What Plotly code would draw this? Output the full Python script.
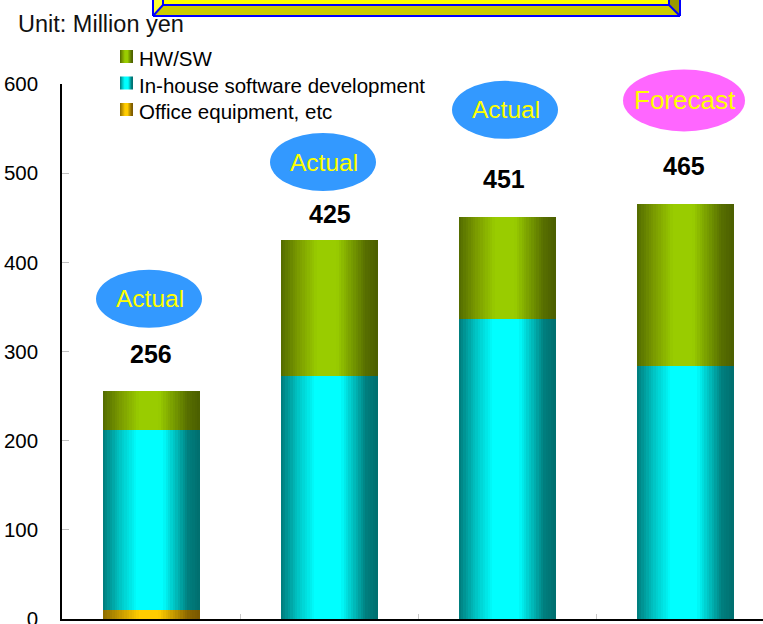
import plotly.graph_objects as go

# ---- data (million yen) ----
status = ["Actual", "Actual", "Actual", "Forecast"]
office_equipment = [10, 0, 0, 0]
inhouse_software = [202, 273, 336, 284]
hw_sw = [44, 152, 115, 181]
series_names = ["Office equipment, etc", "In-house software development", "HW/SW"]
y_ticks = [0, 100, 200, 300, 400, 500, 600]

totals = [a + b + c for a, b, c in zip(office_equipment, inhouse_software, hw_sw)]
x_pos = list(range(len(totals)))

# ---- page geometry ----
W, H = 763, 624
L, R, T, B = 62, 763, 84, 619          # plot area in page pixels
X_RANGE = [-0.5, -0.5 + (R - L) / 178.0]
Y_RANGE = [0, 600]


def px(xp):
    return (xp - L) / (R - L)


def py(yp):
    return (B - yp) / (B - T)


def paper_x(v):
    return (v - X_RANGE[0]) / (X_RANGE[1] - X_RANGE[0])


def paper_y(v):
    return (v - Y_RANGE[0]) / (Y_RANGE[1] - Y_RANGE[0])


def hex2rgb(h):
    h = h.lstrip("#")
    return tuple(int(h[i:i + 2], 16) for i in (0, 2, 4))


def shade(stops, t):
    for (t0, c0), (t1, c1) in zip(stops, stops[1:]):
        if t0 <= t <= t1:
            f = 0 if t1 == t0 else (t - t0) / (t1 - t0)
            a, b = hex2rgb(c0), hex2rgb(c1)
            return "rgb(%d,%d,%d)" % tuple(round(a[i] + (b[i] - a[i]) * f) for i in range(3))
    return stops[-1][1]


# cylinder-like horizontal shading for each series
gold = [(0, "#8c6c00"), (0.18, "#c49800"), (0.38, "#ffcc00"), (0.58, "#ffcc00"),
        (0.88, "#8a6600"), (1, "#7a5800")]
cyan = [(0, "#007a7a"), (0.18, "#00c4c4"), (0.36, "#00ffff"), (0.62, "#00ffff"),
        (0.88, "#007f7f"), (1, "#006e6e")]
green = [(0, "#526a00"), (0.18, "#7a9a00"), (0.38, "#99cc00"), (0.58, "#99cc00"),
         (0.88, "#576e00"), (1, "#4b5e00")]

segments = [
    (series_names[0], office_equipment, gold),
    (series_names[1], inhouse_software, cyan),
    (series_names[2], hw_sw, green),
]

BAR_W = 97 / 178.0
N = 40

fig = go.Figure()
base = [0] * len(totals)
for name, vals, stops in segments:
    for k in range(N):
        t = (k + 0.5) / N
        start = -BAR_W / 2 + k * BAR_W / N
        fig.add_trace(go.Bar(
            x=x_pos, y=vals, base=list(base),
            offset=start, width=BAR_W - k * BAR_W / N,
            marker=dict(color=shade(stops, t), line=dict(width=0)),
            name=name, showlegend=False, hoverinfo="skip",
        ))
    base = [b + v for b, v in zip(base, vals)]

shapes = []
annotations = []

# ---- value labels above bars ----
label_lift = [37, 26, 38, 38]
label_dx = [0, 1, -3, -1]
for i, tot in enumerate(totals):
    annotations.append(dict(
        x=x_pos[i], y=tot, xref="x", yref="y", text="<b>%d</b>" % tot,
        showarrow=False, yshift=label_lift[i], xshift=label_dx[i],
        font=dict(family="Liberation Sans, Arial", size=25, color="black"),
    ))

# ---- status ellipses ----
ell_lift = [92, 78, 107, 104]
ell_dx = [-2, -6, -2, -1]
for i, tot in enumerate(totals):
    forecast = status[i] == "Forecast"
    hw, hh = (61, 31) if forecast else (53, 29)
    shapes.append(dict(
        type="circle", xref="paper", yref="paper",
        xsizemode="pixel", ysizemode="pixel",
        xanchor=paper_x(x_pos[i]), yanchor=paper_y(tot),
        x0=ell_dx[i] - hw, x1=ell_dx[i] + hw,
        y0=ell_lift[i] - hh, y1=ell_lift[i] + hh,
        fillcolor="#ff66ff" if forecast else "#3399ff",
        line=dict(width=0), layer="above",
    ))
    annotations.append(dict(
        x=x_pos[i], y=tot, xref="x", yref="y", text=status[i],
        showarrow=False, yshift=ell_lift[i], xshift=ell_dx[i] + 1,
        font=dict(family="Liberation Sans, Arial", size=26 if forecast else 24.5,
                  color="#ffff00"),
    ))

# ---- legend (shaded swatches + labels) ----
legend_rows = [(series_names[2], green, 50), (series_names[1], cyan, 76.5),
               (series_names[0], gold, 103)]
for name, stops, top in legend_rows:
    for k in range(13):
        shapes.append(dict(
            type="rect", xref="paper", yref="paper",
            x0=px(120 + k), x1=px(121 + k), y0=py(top + 13), y1=py(top),
            fillcolor=shade(stops, (k + 0.5) / 13), line=dict(width=0),
        ))
    annotations.append(dict(
        x=px(137), y=py(top + 8.5), xref="paper", yref="paper",
        xanchor="left", yanchor="middle", text=name, showarrow=False,
        font=dict(family="Liberation Sans, Arial", size=20.5, color="black"),
    ))

annotations.append(dict(
    x=px(16), y=py(24), xref="paper", yref="paper", xanchor="left",
    yanchor="middle", text="Unit: Million yen", showarrow=False,
    font=dict(family="Liberation Sans, Arial", size=23.5, color="#111111"),
))

# ---- bevelled title panel along the top edge ----
def poly(pts, fill, lw=0, lc="#0000ff"):
    d = "M" + " L".join("%f,%f" % (px(a), py(b)) for a, b in pts) + " Z"
    return dict(type="path", xref="paper", yref="paper", path=d,
                fillcolor=fill, line=dict(width=lw, color=lc))


def seg(p, q, lw=2):
    return dict(type="line", xref="paper", yref="paper",
                x0=px(p[0]), y0=py(p[1]), x1=px(q[0]), y1=py(q[1]),
                line=dict(width=lw, color="#0000ff"))


shapes += [
    poly([(153, -10), (680, -10), (680, 16), (153, 16)], "#cccc00"),
    poly([(153, -10), (163, -10), (163, 5), (153, 16)], "#ffff33"),
    poly([(669, -10), (680, -10), (680, 16), (669, 5)], "#999900"),
    poly([(163, -10), (669, -10), (669, 5), (163, 5)], "#ffff00"),
    seg((163, -10), (163, 5)), seg((163, 5), (669, 5)), seg((669, 5), (669, -10)),
    seg((163, 5), (153, 16)), seg((669, 5), (680, 16)),
    seg((153, -10), (153, 16)), seg((153, 16), (680, 16)), seg((680, 16), (680, -10)),
]

fig.update_layout(
    width=W, height=H,
    margin=dict(l=L, r=W - R, t=T, b=H - B, pad=0, autoexpand=False),
    paper_bgcolor="white", plot_bgcolor="white",
    barmode="overlay", bargap=0,
    showlegend=False,
    shapes=shapes, annotations=annotations,
    font=dict(family="Liberation Sans, Arial", color="black"),
)
fig.update_xaxes(
    range=X_RANGE, showgrid=False, zeroline=False, automargin=False,
    showline=True, linecolor="black", linewidth=2,
    tickmode="array", tickvals=[p + 0.5 for p in x_pos[:-1]],
    ticks="inside", ticklen=5, tickcolor="#c8c8c8", tickwidth=1,
    showticklabels=False,
)
fig.update_yaxes(
    range=Y_RANGE, showgrid=False, zeroline=False, automargin=False,
    showline=True, linecolor="black", linewidth=1.5,
    tickmode="array", tickvals=y_ticks, ticktext=[str(v) for v in y_ticks],
    ticks="inside", ticklen=7, tickcolor="#c0c0c0", tickwidth=1,
    ticklabelstandoff=18, ticklabeloverflow="allow",
    tickfont=dict(family="Liberation Sans, Arial", size=20.5, color="black"),
)

fig.write_html("out.html")
